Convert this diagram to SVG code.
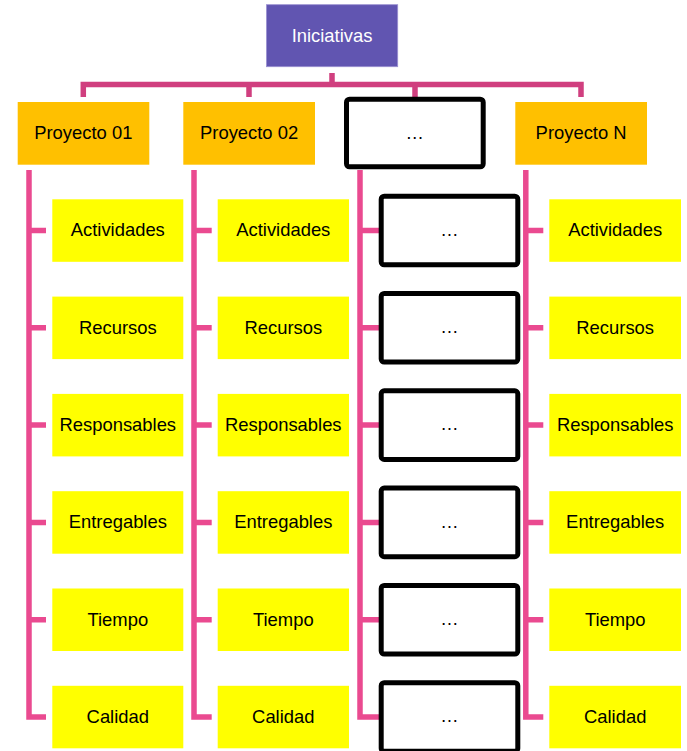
<svg xmlns="http://www.w3.org/2000/svg" width="687" height="751" viewBox="0 0 687 751">
<style>
text{font-family:"Liberation Sans",Arial,sans-serif;font-size:18.4px;text-anchor:middle;fill:#000}
.root{fill:#6155B1;stroke:#9A90D0;stroke-width:0.8}
.root-t{fill:#fff}
.proj{fill:#FFC000}
.task{fill:#FFFF00}
.blank{fill:#fff;stroke:#000;stroke-width:5}
.hl{fill:none;stroke:#D03F7F;stroke-width:5.5}
.vl{fill:none;stroke:#EA4A90;stroke-width:5.5}
</style>
<rect width="687" height="751" fill="#fff"/>
<g id="connectors">
<path class="hl" d="M83.3,97 V84.5 H581 V97 M249,84.5 V97 M415,84.5 V97 M332,73 V84.5"/>
<path class="vl" d="M29,170 V717 H46 M29,230.5 H46 M29,327.8 H46 M29,425.1 H46 M29,522.4 H46 M29,619.7 H46"/>
<path class="vl" d="M194,170 V717 H211.7 M194,230.5 H211.7 M194,327.8 H211.7 M194,425.1 H211.7 M194,522.4 H211.7 M194,619.7 H211.7"/>
<path class="vl" d="M360,170 V717 H379 M360,230.5 H379 M360,327.8 H379 M360,425.1 H379 M360,522.4 H379 M360,619.7 H379"/>
<path class="vl" d="M525.8,170 V717 H543.3 M525.8,230.5 H543.3 M525.8,327.8 H543.3 M525.8,425.1 H543.3 M525.8,522.4 H543.3 M525.8,619.7 H543.3"/>
</g>
<g id="iniciativas"><rect class="root" x="266.5" y="4.7" width="131.2" height="62"/><text class="root-t" x="332" y="41.6">Iniciativas</text></g>
<g id="proyecto01"><rect class="proj" x="17.7" y="102" width="131.6" height="62.7"/><text x="83.3" y="139.2">Proyecto 01</text></g>
<g id="proyecto02"><rect class="proj" x="183.3" y="102" width="131.7" height="62.7"/><text x="249.1" y="139.2">Proyecto 02</text></g>
<g id="proyecto-ellipsis"><rect class="blank" x="346.5" y="99.2" width="136.7" height="67.6" rx="3"/><text x="414.8" y="138.6">…</text></g>
<g id="proyectoN"><rect class="proj" x="515.3" y="102" width="131.7" height="62.7"/><text x="581.1" y="139.2">Proyecto N</text></g>

<g id="p1-actividades"><rect class="task" x="52.3" y="199.3" width="131" height="62.5"/><text x="117.8" y="236.3">Actividades</text></g>
<g id="p1-recursos"><rect class="task" x="52.3" y="296.6" width="131" height="62.5"/><text x="117.8" y="333.6">Recursos</text></g>
<g id="p1-responsables"><rect class="task" x="52.3" y="393.9" width="131" height="62.5"/><text x="117.8" y="430.9">Responsables</text></g>
<g id="p1-entregables"><rect class="task" x="52.3" y="491.2" width="131" height="62.5"/><text x="117.8" y="528.2">Entregables</text></g>
<g id="p1-tiempo"><rect class="task" x="52.3" y="588.5" width="131" height="62.5"/><text x="117.8" y="625.5">Tiempo</text></g>
<g id="p1-calidad"><rect class="task" x="52.3" y="685.8" width="131" height="62.5"/><text x="117.8" y="722.8">Calidad</text></g>

<g id="p2-actividades"><rect class="task" x="217.7" y="199.3" width="131.3" height="62.5"/><text x="283.3" y="236.3">Actividades</text></g>
<g id="p2-recursos"><rect class="task" x="217.7" y="296.6" width="131.3" height="62.5"/><text x="283.3" y="333.6">Recursos</text></g>
<g id="p2-responsables"><rect class="task" x="217.7" y="393.9" width="131.3" height="62.5"/><text x="283.3" y="430.9">Responsables</text></g>
<g id="p2-entregables"><rect class="task" x="217.7" y="491.2" width="131.3" height="62.5"/><text x="283.3" y="528.2">Entregables</text></g>
<g id="p2-tiempo"><rect class="task" x="217.7" y="588.5" width="131.3" height="62.5"/><text x="283.3" y="625.5">Tiempo</text></g>
<g id="p2-calidad"><rect class="task" x="217.7" y="685.8" width="131.3" height="62.5"/><text x="283.3" y="722.8">Calidad</text></g>

<g id="p3-1"><rect class="blank" x="381.2" y="196.2" width="136.6" height="68.6" rx="3"/><text x="449.5" y="235.6">…</text></g>
<g id="p3-2"><rect class="blank" x="381.2" y="293.5" width="136.6" height="68.6" rx="3"/><text x="449.5" y="332.9">…</text></g>
<g id="p3-3"><rect class="blank" x="381.2" y="390.8" width="136.6" height="68.6" rx="3"/><text x="449.5" y="430.2">…</text></g>
<g id="p3-4"><rect class="blank" x="381.2" y="488.1" width="136.6" height="68.6" rx="3"/><text x="449.5" y="527.5">…</text></g>
<g id="p3-5"><rect class="blank" x="381.2" y="585.4" width="136.6" height="68.6" rx="3"/><text x="449.5" y="624.8">…</text></g>
<g id="p3-6"><rect class="blank" x="381.2" y="682.7" width="136.6" height="68.6" rx="3"/><text x="449.5" y="722.1">…</text></g>

<g id="pN-actividades"><rect class="task" x="549.3" y="199.3" width="131.7" height="62.5"/><text x="615.2" y="236.3">Actividades</text></g>
<g id="pN-recursos"><rect class="task" x="549.3" y="296.6" width="131.7" height="62.5"/><text x="615.2" y="333.6">Recursos</text></g>
<g id="pN-responsables"><rect class="task" x="549.3" y="393.9" width="131.7" height="62.5"/><text x="615.2" y="430.9">Responsables</text></g>
<g id="pN-entregables"><rect class="task" x="549.3" y="491.2" width="131.7" height="62.5"/><text x="615.2" y="528.2">Entregables</text></g>
<g id="pN-tiempo"><rect class="task" x="549.3" y="588.5" width="131.7" height="62.5"/><text x="615.2" y="625.5">Tiempo</text></g>
<g id="pN-calidad"><rect class="task" x="549.3" y="685.8" width="131.7" height="62.5"/><text x="615.2" y="722.8">Calidad</text></g>
</svg>
